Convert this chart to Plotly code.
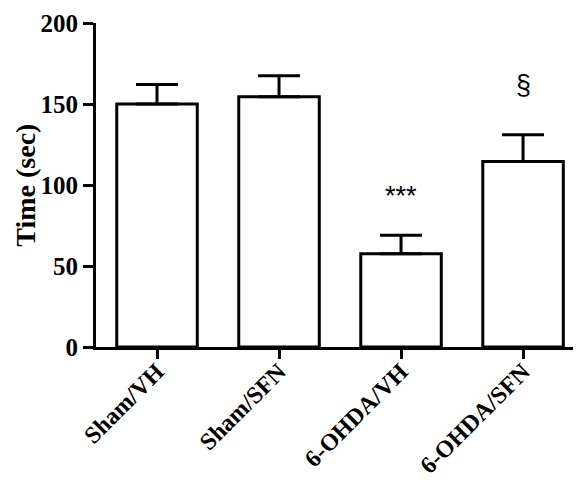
import plotly.graph_objects as go

categories = ["Sham/VH", "Sham/SFN", "6-OHDA/VH", "6-OHDA/SFN"]
means = [150, 154.5, 57.5, 114.5]
sem = [12, 13, 11.5, 16.5]
marks = ["", "", "***", "§"]
mark_y = [None, None, 93, 162]
y_ticks = [0, 50, 100, 150, 200]
y_title = "Time (sec)"

fig = go.Figure()
fig.add_trace(go.Bar(
    x=list(range(len(categories))), y=means,
    marker=dict(color="white", line=dict(color="black", width=3)),
    width=0.66,
    error_y=dict(type="data", symmetric=False, array=sem,
                 arrayminus=[0] * len(sem), color="black", thickness=3, width=21),
    showlegend=False,
))

for i, (m, yy) in enumerate(zip(marks, mark_y)):
    if m:
        fig.add_annotation(x=i, y=yy, text=m, showarrow=False,
                           font=dict(family="Liberation Sans", size=27, color="black"))

# y-axis title as a rotated annotation for exact placement
fig.add_annotation(x=-0.147, y=0.5, xref="paper", yref="paper", text=y_title,
                   textangle=-90, showarrow=False, xanchor="center", yanchor="middle",
                   font=dict(family="Liberation Serif", size=28, color="black", weight="bold"))

# page body adds an 8px offset; compensate in size/margins
fig.update_layout(
    width=573, height=476,
    margin=dict(l=88, r=0, t=15, b=137),
    plot_bgcolor="white", paper_bgcolor="white",
    font=dict(family="Liberation Serif", color="black"),
)
fig.update_xaxes(
    range=[-0.5, 3.475], automargin=False,
    tickmode="array", tickvals=list(range(len(categories))), ticktext=categories,
    tickangle=-45, ticklabelstandoff=-11,
    tickfont=dict(family="Liberation Serif", size=24, color="black", weight="bold"),
    showline=True, linecolor="black", linewidth=3,
    ticks="outside", ticklen=9, tickwidth=3, tickcolor="black",
    showgrid=False, zeroline=False,
)
fig.update_yaxes(
    range=[0, 200], automargin=False,
    tickmode="array", tickvals=y_ticks,
    tickfont=dict(family="Liberation Serif", size=25, color="black", weight="bold"),
    showline=True, linecolor="black", linewidth=3,
    ticks="outside", ticklen=10, tickwidth=3, tickcolor="black",
    showgrid=False, zeroline=False,
)

fig.write_html("out.html")
